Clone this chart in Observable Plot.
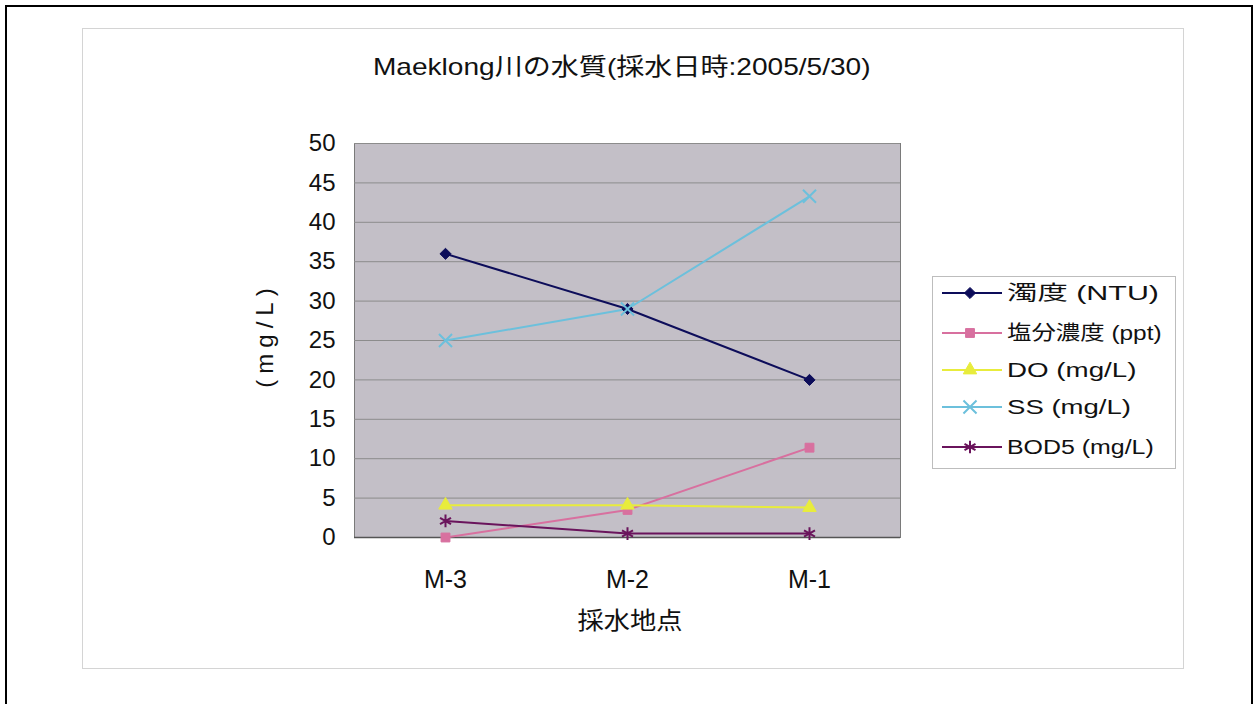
<!DOCTYPE html>
<html><head><meta charset="utf-8">
<script src="https://cdn.jsdelivr.net/npm/d3@7"></script>
<script src="https://cdn.jsdelivr.net/npm/@observablehq/plot@0.6"></script>
<style>
body{margin:0;background:#fff;font-family:"Liberation Sans","Noto Sans CJK JP",sans-serif;}
#wrap{position:relative;width:1253px;height:704px;overflow:hidden;}
.abs{position:absolute;}
</style></head>
<body><div id="wrap"></div>
<script>
const sites = ["M-3", "M-2", "M-1"];
const seriesNames = ["濁度 (NTU)", "塩分濃度 (ppt)", "DO (mg/L)", "SS (mg/L)", "BOD5 (mg/L)"];
const turbidity = [36, 29, 20];
const salinity = [0, 3.5, 11.4];
const dissolvedO2 = [4.1, 4.1, 3.8];
const suspendedSolids = [25, 29, 43.3];
const bod5 = [2.1, 0.5, 0.5];
const yTicks = [0, 5, 10, 15, 20, 25, 30, 35, 40, 45, 50];
const titleText = "Maeklong川の水質(採水日時:2005/5/30)";
const yLabel = "(mg/L)";
const xLabel = "採水地点";

const seriesValues = [turbidity, salinity, dissolvedO2, suspendedSolids, bod5];
const colors = ["#0d0d5a", "#d8709f", "#e8ec3c", "#6cc0dc", "#6a145c"];
const symbols = ["diamond2", "square", "triangle", "times", "asterisk"];
const filled = [true, true, true, false, false];

const rows = [];
seriesNames.forEach((s, i) => sites.forEach((site, j) => rows.push({series: s, idx: i, site, value: seriesValues[i][j]})));

const wrap = document.getElementById("wrap");
const ob = document.createElement("div");
ob.className = "abs";
Object.assign(ob.style, {left: "5px", top: "5px", width: "1244px", height: "720px", border: "2px solid #000"});
wrap.appendChild(ob);
const ip = document.createElement("div");
ip.className = "abs";
Object.assign(ip.style, {left: "82px", top: "28px", width: "1100px", height: "639px", border: "1px solid #d4d4d4", background: "#fff"});
wrap.appendChild(ip);

const lineMarks = [];
seriesNames.forEach((s, i) => {
  const data = rows.filter(r => r.idx === i);
  lineMarks.push(Plot.line(data, {x: "site", y: "value", stroke: colors[i], strokeWidth: 2}));
});
seriesNames.forEach((s, i) => {
  const data = rows.filter(r => r.idx === i);
  lineMarks.push(Plot.dot(data, {x: "site", y: "value", symbol: symbols[i], r: filled[i] ? 5 : 6,
    fill: filled[i] ? colors[i] : "none", stroke: colors[i], strokeWidth: filled[i] ? 1 : 2}));
});

const chart = Plot.plot({
  width: 1253, height: 704,
  marginLeft: 354, marginRight: 353, marginTop: 143, marginBottom: 167,
  style: {background: "transparent", fontFamily: "'Liberation Sans', 'Noto Sans CJK JP', sans-serif", color: "#111"},
  x: {type: "point", domain: sites, padding: 0.5},
  y: {domain: [0, 50], ticks: yTicks},
  marks: [
    Plot.frame({fill: "#c3bfc7", stroke: "#7a7a7a"}),
    Plot.gridY(yTicks, {stroke: "#8c8c8c", strokeOpacity: 1}),
    Plot.axisY({ticks: yTicks, tickSize: 0, tickPadding: 19, fontSize: 24, label: null}),
    Plot.axisX({tickSize: 0, tickPadding: 33, fontSize: 25, label: null}),
    Plot.ruleY([0], {stroke: "#555", strokeWidth: 1.5}),
    ...lineMarks
  ]
});
chart.style.position = "absolute";
chart.style.left = "0px";
chart.style.top = "0px";
wrap.appendChild(chart);

function addText(txt, opts) {
  const d = document.createElement("div");
  d.className = "abs";
  d.textContent = txt;
  Object.assign(d.style, {whiteSpace: "nowrap", color: "#111", fontSize: opts.size + "px", lineHeight: "1", left: "0px", top: "0px"});
  if (opts.spacing) d.style.letterSpacing = opts.spacing + "px";
  wrap.appendChild(d);
  const w = d.offsetWidth, h = d.offsetHeight;
  const sx = opts.width ? opts.width / w : 1;
  const rot = opts.rotate || 0;
  if (opts.anchor === "left") {
    d.style.left = opts.x + "px";
    d.style.top = (opts.y - h / 2) + "px";
    d.style.transformOrigin = "0 50%";
    d.style.transform = `scaleX(${sx})`;
  } else {
    d.style.left = (opts.x - w / 2) + "px";
    d.style.top = (opts.y - h / 2) + "px";
    d.style.transformOrigin = "50% 50%";
    d.style.transform = `rotate(${rot}deg) scaleX(${sx})`;
  }
  return d;
}
addText(titleText, {x: 621, y: 67, size: 24, width: 497});
addText(xLabel, {x: 630, y: 621, size: 24, width: 105});
addText(yLabel, {x: 264, y: 335, size: 24, spacing: 6, rotate: -90});

const lg = document.createElement("div");
lg.className = "abs";
Object.assign(lg.style, {left: "932px", top: "276px", width: "242px", height: "191px", border: "1px solid #bdbdbd", background: "#fff"});
wrap.appendChild(lg);
const ys = [293, 333, 370, 407, 447];
const legendWidths = [152, 155, 129, 124, 147];
const symMap = {diamond2: d3.symbolDiamond2, square: d3.symbolSquare, triangle: d3.symbolTriangle, times: d3.symbolTimes, asterisk: d3.symbolAsterisk};
seriesNames.forEach((s, i) => {
  const svg = d3.create("svg").attr("width", 64).attr("height", 20)
    .style("position", "absolute").style("left", "940px").style("top", (ys[i] - 10) + "px");
  svg.append("line").attr("x1", 2).attr("x2", 62).attr("y1", 10).attr("y2", 10).attr("stroke", colors[i]).attr("stroke-width", 2);
  const r = filled[i] ? 5 : 6;
  svg.append("path").attr("transform", "translate(30,10)")
    .attr("d", d3.symbol(symMap[symbols[i]], r * r * Math.PI)())
    .attr("fill", filled[i] ? colors[i] : "none").attr("stroke", colors[i]).attr("stroke-width", filled[i] ? 1 : 2);
  wrap.appendChild(svg.node());
  addText(s, {x: 1007, y: ys[i], size: 20, anchor: "left", width: legendWidths[i]});
});
</script></body></html>
